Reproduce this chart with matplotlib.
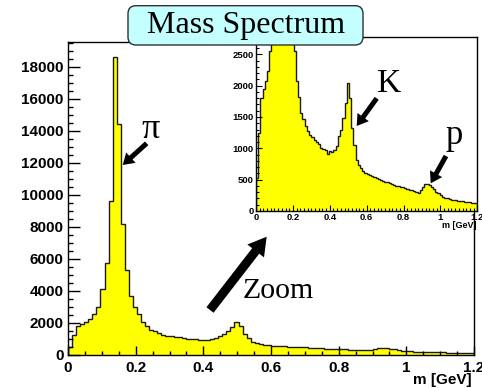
import numpy as np
import matplotlib.pyplot as plt
from matplotlib.patches import FancyBboxPatch, FancyArrow

# histogram: 100 bins of 12 MeV from 0 to 1.2 GeV
edges = np.round(np.arange(101) * 0.012, 3)
counts = [
    520, 1250, 1800, 1950, 2080, 2230, 2550, 3000, 4100, 5750,
    9600, 18600, 14400, 8150, 5300, 3700, 3000, 2560, 2080, 1820,
    1560, 1470, 1360, 1270, 1210, 1180, 1140, 1100, 1070, 1010,
    990, 980, 910, 950, 945, 980, 1040, 1190, 1300, 1480,
    1720, 2040, 1800, 1330, 1050, 820, 740, 680, 640, 610,
    590, 570, 555, 540, 525, 510, 495, 485, 470, 460,
    445, 430, 415, 405, 395, 385, 375, 365, 350, 340,
    330, 315, 300, 290, 330, 390, 425, 430, 415, 385,
    350, 310, 280, 250, 230, 215, 200, 190, 180, 170,
    175, 165, 160, 155, 150, 145, 140, 135, 130, 125,
]

x_ticks = [0, 0.2, 0.4, 0.6, 0.8, 1.0, 1.2]
x_labels = ['0', '0.2', '0.4', '0.6', '0.8', '1', '1.2']
main_yticks = [0, 2000, 4000, 6000, 8000, 10000, 12000, 14000, 16000, 18000]
inset_yticks = [0, 500, 1000, 1500, 2000, 2500]

sans = 'Liberation Sans'
serif = 'Liberation Serif'
yellow = '#ffff00'
line = '#1a1a1a'

fig = plt.figure(figsize=(4.82, 3.88), dpi=100)

# main plot
ax = fig.add_axes([68/482, 33/388, 406/482, 313/388])
ax.stairs(counts, edges, fill=True, facecolor=yellow, edgecolor='none')
ax.stairs(counts, edges, color=line, lw=1.0, baseline=0)
ax.set_xlim(0, 1.2)
ax.set_ylim(0, 19540)
ax.set_xticks(x_ticks, x_labels)
ax.set_xticks(np.arange(0, 1.21, 0.05), minor=True)
ax.set_yticks(main_yticks, [str(v) for v in main_yticks])
ax.set_yticks(np.arange(0, 19501, 500), minor=True)
ax.tick_params(axis='x', which='major', direction='in', length=6.5, width=1, pad=4.5)
ax.tick_params(axis='x', which='minor', direction='in', length=3, width=1)
ax.tick_params(axis='y', which='major', direction='in', length=8.6, width=1, pad=3)
ax.tick_params(axis='y', which='minor', direction='in', length=3.6, width=1)
for lab in ax.get_xticklabels() + ax.get_yticklabels():
    lab.set_fontfamily(sans)
    lab.set_fontweight('bold')
    lab.set_fontsize(11)
for s in ax.spines.values():
    s.set_linewidth(1)

# zoomed inset
ins = fig.add_axes([256/482, 177/388, 221.3/482, 173.7/388])
ins.set_zorder(5)
ins.stairs(counts, edges, fill=True, facecolor=yellow, edgecolor='none')
ins.stairs(counts, edges, color=line, lw=1.0, baseline=0)
ins.set_xlim(0, 1.2)
ins.set_ylim(0, 2771)
ins.set_xticks(x_ticks, x_labels)
ins.set_xticks(np.arange(0, 1.21, 0.02), minor=True)
ins.set_yticks(inset_yticks, [str(v) for v in inset_yticks])
ins.set_yticks(np.arange(0, 2701, 100), minor=True)
ins.tick_params(which='major', direction='in', length=4, width=0.8, pad=1.5)
ins.tick_params(which='minor', direction='in', length=2, width=0.8)
for lab in ins.get_xticklabels() + ins.get_yticklabels():
    lab.set_fontfamily(sans)
    lab.set_fontweight('bold')
    lab.set_fontsize(6.8)
for s in ins.spines.values():
    s.set_linewidth(1)

# overlay in pixel units for title, labels and arrows
ov = fig.add_axes([0, 0, 1, 1])
ov.set_zorder(10)
ov.set_xlim(0, 482)
ov.set_ylim(388, 0)
ov.axis('off')

ov.add_patch(FancyBboxPatch((128, 5.7), 235, 39.3,
                            boxstyle='round,pad=0,rounding_size=8',
                            fc='#c4ffff', ec='#303030', lw=1))
ov.text(246, 33.3, 'Mass Spectrum', ha='center', va='baseline',
        family=serif, fontsize=23)

ov.text(472, 380, 'm [GeV]', ha='right', va='center', family=sans,
        fontweight='bold', fontsize=11)
ov.text(477, 226, 'm [GeV]', ha='right', va='center', family=sans,
        fontweight='bold', fontsize=6.5)

ov.text(151, 138, '\u03c0', ha='center', va='baseline', family=serif, fontsize=26)
ov.text(389, 91.7, 'K', ha='center', va='baseline', family=serif, fontsize=24)
ov.text(454, 144.4, 'p', ha='center', va='baseline', family=serif, fontsize=25)
ov.text(243, 298.3, 'Zoom', ha='left', va='baseline', family=serif, fontsize=21.5)


def arrow(x0, y0, x1, y1, w, hw, hl):
    ov.add_patch(FancyArrow(x0, y0, x1 - x0, y1 - y0, width=w, head_width=hw,
                            head_length=hl, length_includes_head=True,
                            fc='black', ec='black', lw=0))


arrow(146.7, 143.3, 122.7, 165, 5, 14, 11)
arrow(376.7, 98.3, 356.7, 126, 5, 14, 11)
arrow(446, 156, 430.7, 183.3, 5, 14, 11)
arrow(210, 310, 266.7, 236.7, 9, 21, 18)

fig.savefig('out.png', dpi=100)
